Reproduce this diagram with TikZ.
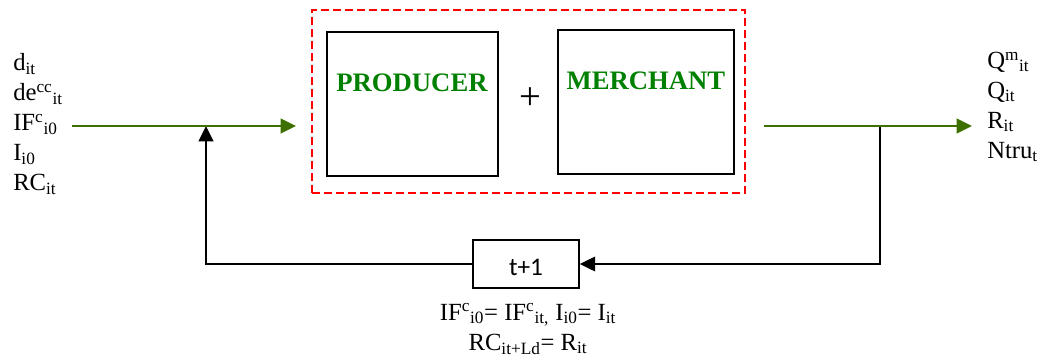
\documentclass[tikz,border=0pt]{standalone}
\usepackage{fontspec}
\setmainfont{Liberation Serif}
\newfontfamily\calfont{Carlito}
\usetikzlibrary{positioning, arrows.meta}
\definecolor{flowgreen}{RGB}{62,112,0}
\definecolor{namegreen}{RGB}{0,128,0}

\begin{document}
\begin{tikzpicture}[
    x=0.75pt, y=-0.75pt,
    >={Triangle[length=11.5pt, width=11pt]},
    agent/.style={
        draw, line width=1.4pt, minimum height=108pt
    },
    agentname/.style={font=\fontsize{20}{24}\selectfont\bfseries, text=namegreen},
    vars/.style={align=left, inner sep=0pt, font=\fontsize{18.5}{22.5}\selectfont},
    flow/.style={->, line width=1.5pt, draw=flowgreen, fill=flowgreen},
    feedback/.style={->, line width=1.2pt}
]

\useasboundingbox (0,0) rectangle (1046,357);

% -------------------------
% Agents
% -------------------------

% Dashed frame round both agents
\node[draw=red, dash pattern=on 6pt off 3pt, line width=1.4pt,
      minimum width=324.75pt, minimum height=137.25pt] (market) at (528.5,101.5) {};

\node[agent, minimum width=128pt] (producer) at (412.5,104) {};
\node[agent, minimum width=132pt] (merchant) at (646,102) {};
\node[agentname] (producerName) at (412,83) {PRODUCER};
\node[agentname] (merchantName) at (646,81) {MERCHANT};
\node[font=\fontsize{29}{30}\selectfont] (plus) at (530,99) {+};

% -------------------------
% Inputs and outputs
% -------------------------

\node[vars, anchor=west] (inputs) at (13,124) {
    d\textsubscript{it}\\
    de\textsuperscript{cc}\textsubscript{it}\\
    IF\textsuperscript{c}\textsubscript{i0}\\
    I\textsubscript{i0}\\
    RC\textsubscript{it}
};

\node[vars, anchor=west] (outputs) at (987,107) {
    Q\textsuperscript{m}\textsubscript{it}\\
    Q\textsubscript{it}\\
    R\textsubscript{it}\\
    Ntru\textsubscript{t}
};

\coordinate (inStart) at (72,126);
\coordinate (inEnd) at (296,126);
\coordinate (loopIn) at (206,126);
\coordinate (outStart) at (764,126);
\coordinate (outEnd) at (972,126);
\coordinate (loopOut) at (880,126);

% -------------------------
% Time step
% -------------------------

\node[draw, line width=1.2pt, minimum width=79.5pt, minimum height=36pt, text height=18pt,
      font=\calfont\fontsize{19}{22}\selectfont] (step1) at (526,264) {t+1};

\node[align=center, font=\fontsize{18.5}{22.5}\selectfont] (update) at (528,329) {
    IF\textsuperscript{c}\textsubscript{i0}= IF\textsuperscript{c}\textsubscript{it,} I\textsubscript{i0}= I\textsubscript{it}\\
    RC\textsubscript{it+Ld}= R\textsubscript{it}
};

% -------------------------
% Connections
% -------------------------

% feedback loop
\draw[feedback] (loopOut) |- (step1.east);
\draw[feedback] (step1.west) -| (loopIn);

% main flow
\draw[flow] (inStart) -- (inEnd);
\draw[flow] (outStart) -- (outEnd);

\end{tikzpicture}
\end{document}
